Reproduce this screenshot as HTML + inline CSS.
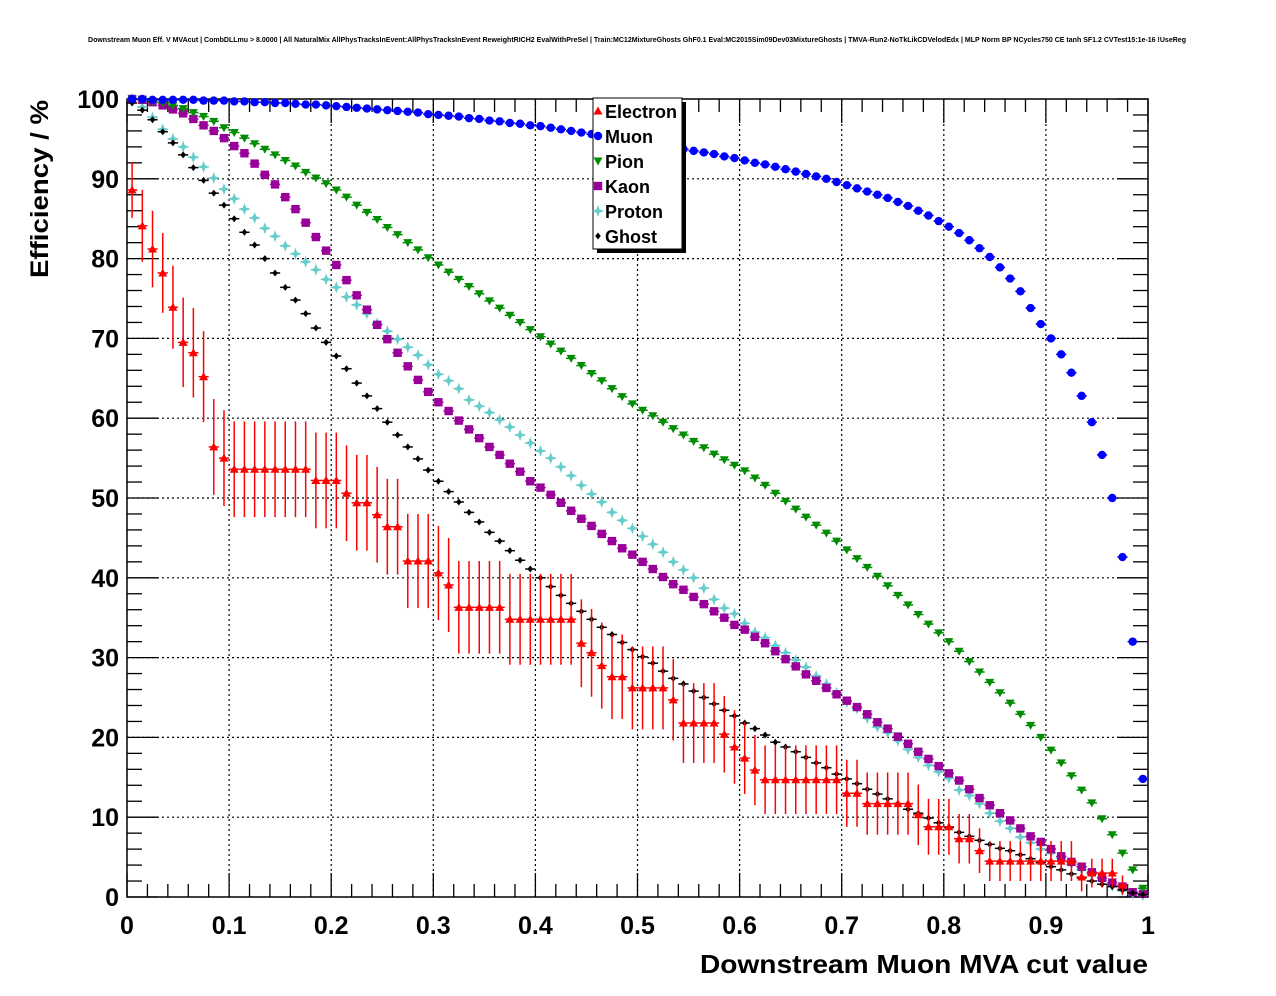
<!DOCTYPE html>
<html><head><meta charset="utf-8"><style>
html,body{margin:0;padding:0;background:#fff;}
svg{display:block;font-family:"Liberation Sans",Arial,sans-serif;}
</style></head><body>
<svg id="chart" width="1276" height="996" viewBox="0 0 1276 996">
<rect x="0" y="0" width="1276" height="996" fill="#fff"/>
<text x="637" y="42" font-size="7.2" font-weight="bold" text-anchor="middle" textLength="1098" lengthAdjust="spacingAndGlyphs">Downstream Muon Eff. V MVAcut | CombDLLmu &gt; 8.0000 | All NaturalMix AllPhysTracksInEvent:AllPhysTracksInEvent ReweightRICH2 EvalWithPreSel | Train:MC12MixtureGhosts GhF0.1 Eval:MC2015Sim09Dev03MixtureGhosts | TMVA-Run2-NoTkLikCDVelodEdx | MLP Norm BP NCycles750 CE tanh SF1.2 CVTest15:1e-16 !UseReg</text>
<g id="grid"></g>
<g id="axes"></g>
<g id="series"></g>
<text x="48" y="278" font-size="25" font-weight="bold" text-anchor="start" textLength="178" lengthAdjust="spacingAndGlyphs" transform="rotate(-90 48 278)">Efficiency / %</text>
<text x="1148" y="973" font-size="26" font-weight="bold" text-anchor="end" textLength="448" lengthAdjust="spacingAndGlyphs">Downstream Muon MVA cut value</text>
<g id="legend"></g>
</svg>
<script>
const xTicks = [0,0.1,0.2,0.3,0.4,0.5,0.6,0.7,0.8,0.9,1];
const xTickLabels = ["0","0.1","0.2","0.3","0.4","0.5","0.6","0.7","0.8","0.9","1"];
const yTicks = [0,10,20,30,40,50,60,70,80,90,100];
const yTickLabels = ["0","10","20","30","40","50","60","70","80","90","100"];
const nBins = 100;
const muon = [100,100,99.9,99.9,99.9,99.9,99.9,99.8,99.8,99.8,
99.7,99.7,99.6,99.6,99.5,99.5,99.4,99.3,99.3,99.2,
99.1,99.0,98.9,98.8,98.7,98.6,98.5,98.4,98.3,98.1,
98.0,97.9,97.8,97.6,97.5,97.3,97.2,97.0,96.9,96.7,
96.6,96.4,96.2,96.0,95.8,95.6,95.4,95.1,94.9,94.7,
94.5,94.3,94.1,93.9,93.7,93.5,93.3,93.1,92.8,92.6,
92.3,92.0,91.8,91.5,91.2,90.9,90.6,90.3,90.0,89.6,
89.2,88.8,88.4,88.0,87.6,87.1,86.6,86.0,85.4,84.7,
84.0,83.2,82.3,81.3,80.2,78.9,77.5,75.9,73.8,71.8,
70.0,68.0,65.7,62.8,59.5,55.4,50.0,42.6,32.0,14.8];
const pion = [100,99.9,99.7,99.5,99.2,98.8,98.3,97.8,97.2,96.4,
95.8,95.1,94.4,93.7,93.0,92.3,91.6,90.8,90.1,89.4,
88.6,87.7,86.7,85.8,84.9,83.9,83.0,82.0,81.1,80.1,
79.2,78.3,77.4,76.5,75.6,74.7,73.8,72.9,72.0,71.1,
70.2,69.3,68.4,67.5,66.6,65.6,64.7,63.7,62.7,61.8,
61.0,60.3,59.5,58.7,57.9,57.1,56.3,55.5,54.8,54.1,
53.4,52.5,51.6,50.6,49.6,48.6,47.6,46.6,45.6,44.6,
43.5,42.4,41.3,40.2,39.0,37.8,36.6,35.4,34.2,33.1,
32.0,30.8,29.5,28.2,26.9,25.6,24.3,22.9,21.5,20.0,
18.4,16.8,15.2,13.4,11.8,9.8,7.8,5.5,3.4,1.1];
const kaon = [100,99.9,99.6,99.2,98.7,98.2,97.5,96.7,96.0,95.1,
94.1,93.2,91.9,90.5,89.3,87.7,86.2,84.5,82.7,81.0,
79.2,77.3,75.4,73.6,71.7,69.9,68.2,66.5,64.8,63.3,
62.0,60.9,59.7,58.6,57.5,56.4,55.4,54.3,53.3,52.1,
51.3,50.4,49.4,48.4,47.4,46.5,45.5,44.6,43.7,42.9,
42.0,41.1,40.1,39.2,38.5,37.6,36.7,35.8,35.0,34.1,
33.5,32.6,31.8,30.8,29.8,28.9,27.9,27.1,26.2,25.4,
24.6,23.8,22.9,21.9,21.1,20.1,19.2,18.2,17.3,16.4,
15.5,14.6,13.5,12.4,11.5,10.5,9.6,8.6,7.6,6.9,
6.0,5.1,4.4,3.8,3.1,2.4,1.8,1.3,0.6,0.4];
const proton = [100,99.0,97.7,96.2,95.0,94.0,92.7,91.5,90.1,88.7,
87.5,86.2,85.1,83.8,82.8,81.6,80.6,79.6,78.6,77.4,
76.4,75.2,74.2,73.1,71.9,70.9,69.9,68.9,67.9,66.7,
65.5,64.7,63.7,62.3,61.5,60.7,59.8,58.9,57.9,56.9,
55.9,55.0,53.9,52.8,51.6,50.5,49.5,48.2,47.2,46.2,
45.2,44.2,43.2,42.0,41.0,40.0,38.7,37.3,36.2,35.5,
34.3,33.2,32.5,31.5,30.6,29.7,28.8,27.7,26.7,25.6,
24.4,23.6,22.4,21.3,20.6,19.6,18.5,17.5,16.5,15.7,
14.9,13.4,12.7,11.7,10.5,9.5,8.6,7.5,6.8,6.0,
5.5,4.9,4.1,3.4,2.8,2.1,1.4,0.8,0.4,0.2];
const ghost = [99.5,98.6,97.4,95.9,94.5,93.0,91.4,89.8,88.2,86.7,
85.0,83.3,81.7,80.0,78.2,76.4,74.8,73.1,71.3,69.5,
67.8,66.2,64.4,62.8,61.2,59.5,57.9,56.4,54.9,53.5,
52.1,50.8,49.5,48.2,47.0,45.7,44.6,43.4,42.2,41.1,
40.0,38.9,37.8,36.8,35.8,34.8,33.8,32.9,31.9,31.0,
30.1,29.3,28.3,27.4,26.7,25.8,25.0,24.2,23.4,22.7,
21.8,21.1,20.3,19.4,18.8,18.2,17.5,16.8,16.2,15.4,
14.8,14.2,13.5,12.9,12.3,11.7,11.0,10.5,9.9,9.3,
8.7,8.1,7.6,7.1,6.6,6.1,5.8,5.3,4.8,4.3,
3.8,3.4,2.9,2.4,2.0,1.6,1.3,0.9,0.5,0.3];
const electron = [88.6,84.1,81.2,78.2,73.9,69.5,68.2,65.2,56.4,55.0,
53.6,53.6,53.6,53.6,53.6,53.6,53.6,53.6,52.2,52.2,
52.2,50.6,49.4,49.4,47.9,46.4,46.4,42.1,42.1,42.1,
40.6,39.1,36.3,36.3,36.3,36.3,36.3,34.8,34.8,34.8,
34.8,34.8,34.8,34.8,31.8,30.6,29.0,27.6,27.6,26.2,
26.2,26.2,26.2,24.7,21.8,21.8,21.8,21.8,20.4,18.8,
17.4,15.9,14.7,14.7,14.7,14.7,14.7,14.7,14.7,14.7,
13.0,13.0,11.7,11.7,11.7,11.7,11.7,10.3,8.8,8.8,
8.8,7.3,7.3,5.8,4.5,4.5,4.5,4.5,4.5,4.5,
4.5,4.5,4.5,2.5,3.0,3.0,3.0,1.5,null,null];
const electronErr = [3.5,4.5,4.8,5.0,5.2,5.6,5.6,5.7,6.0,6.0,
6.0,6.0,6.0,6.0,6.0,6.0,6.0,6.0,6.0,6.0,
6.0,6.0,6.0,6.0,6.0,6.0,6.0,5.9,5.9,5.9,
5.9,5.9,5.8,5.8,5.8,5.8,5.8,5.7,5.7,5.7,
5.7,5.7,5.7,5.7,5.5,5.5,5.4,5.3,5.3,5.2,
5.2,5.2,5.2,5.1,5.0,5.0,5.0,5.0,4.8,4.6,
4.5,4.4,4.3,4.3,4.3,4.3,4.3,4.3,4.3,4.3,
4.2,4.2,3.9,3.9,3.9,3.9,3.9,3.8,3.5,3.5,
3.5,3.1,3.1,2.8,2.5,2.5,2.5,2.5,2.5,2.5,
2.5,2.5,2.5,1.8,1.8,1.8,1.8,1.2,0,0];

const L=127,R=1148,T=99,B=897;
const xs = v => L + v*(R-L);
const ys = v => B - v/100*(B-T);
const NS='http://www.w3.org/2000/svg';
function mk(tag, attrs, parent){const e=document.createElementNS(NS,tag);for(const k in attrs)e.setAttribute(k,attrs[k]);parent.appendChild(e);return e;}
const grid=document.getElementById('grid'), axes=document.getElementById('axes'), ser=document.getElementById('series'), leg=document.getElementById('legend');

xTicks.forEach(t=>{ if(t>0&&t<1){const l=mk('line',{x1:xs(t),x2:xs(t),y1:T,y2:B,stroke:'#000','stroke-width':1.2,'stroke-dasharray':'2,3'},grid);

}});
yTicks.forEach(t=>{ if(t>0&&t<100){const l=mk('line',{x1:L,x2:R,y1:ys(t),y2:ys(t),stroke:'#000','stroke-width':1.2,'stroke-dasharray':'2,3'},grid);

}});

const fr=mk('rect',{x:L,y:T,width:R-L,height:B-T,fill:'none',stroke:'#000','stroke-width':1.5},axes);


for(let i=0;i<=50;i++){const v=i/50;const len=(i%5===0)?24:13;const x=xs(v);
 const a=mk('line',{x1:x,x2:x,y1:B,y2:B-len,stroke:'#000','stroke-width':1.3},axes);
 
 
 const b=mk('line',{x1:x,x2:x,y1:T,y2:T+len,stroke:'#000','stroke-width':1.3},axes);
 
 }
for(let i=0;i<=50;i++){const v=i*2;const len=(i%5===0)?31:15;const y=ys(v);
 const a=mk('line',{x1:L,x2:L+len,y1:y,y2:y,stroke:'#000','stroke-width':1.3},axes);
 
 
 const b=mk('line',{x1:R,x2:R-len,y1:y,y2:y,stroke:'#000','stroke-width':1.3},axes);
 
 }
xTicks.forEach((t,i)=>{const e=mk('text',{x:xs(t),y:934,'font-size':25,'font-weight':'bold','text-anchor':'middle'},axes);e.textContent=xTickLabels[i];
 
 });
yTicks.forEach((t,i)=>{const e=mk('text',{x:119,y:ys(t)+9,'font-size':25,'font-weight':'bold','text-anchor':'end'},axes);e.textContent=yTickLabels[i];
 
 });

function marker(kind,color,cx,cy,parent){
 let e;
 if(kind==='tri-up') e=mk('polygon',{points:`${cx-4.5},${cy+3.5} ${cx+4.5},${cy+3.5} ${cx},${cy-4.5}`,fill:color},parent);
 else if(kind==='tri-down') e=mk('polygon',{points:`${cx-4.5},${cy-3.5} ${cx+4.5},${cy-3.5} ${cx},${cy+4.5}`,fill:color},parent);
 else if(kind==='circle') e=mk('circle',{cx:cx,cy:cy,r:4.2,fill:color},parent);
 else if(kind==='square') e=mk('rect',{x:cx-4.2,y:cy-4.2,width:8.4,height:8.4,fill:color},parent);
 else if(kind==='star') e=mk('polygon',{points:`${cx},${cy-6} ${cx+1.6},${cy-1.6} ${cx+6},${cy} ${cx+1.6},${cy+1.6} ${cx},${cy+6} ${cx-1.6},${cy+1.6} ${cx-6},${cy} ${cx-1.6},${cy-1.6}`,fill:color},parent);
 else e=mk('polygon',{points:`${cx},${cy-3.5} ${cx+2.8},${cy} ${cx},${cy+3.5} ${cx-2.8},${cy}`,fill:color},parent);
 return e;
}
const seriesDefs=[
 {name:'electron',label:'Electron',data:electron,color:'#ff0000',kind:'tri-up',err:electronErr},
 {name:'muon',label:'Muon',data:muon,color:'#0000ff',kind:'circle'},
 {name:'pion',label:'Pion',data:pion,color:'#008c00',kind:'tri-down'},
 {name:'kaon',label:'Kaon',data:kaon,color:'#990099',kind:'square'},
 {name:'proton',label:'Proton',data:proton,color:'#66cccc',kind:'star'},
 {name:'ghost',label:'Ghost',data:ghost,color:'#000000',kind:'diamond'}];
const drawOrder=[4,3,2,5,0,1];
drawOrder.forEach(si=>{const s=seriesDefs[si];
 const g=mk('g',{},ser);
 
 
 s.data.forEach((v,i)=>{ if(v===null) return;
  const x0=xs(i/nBins),x1=xs((i+1)/nBins),cx=xs((i+0.5)/nBins),cy=ys(v);
  const h=mk('line',{x1:x0,x2:x1,y1:cy,y2:cy,stroke:s.color,'stroke-width':1.5},g);
  
  
  if(s.err){const ev=mk('line',{x1:cx,x2:cx,y1:ys(v+s.err[i]),y2:ys(Math.max(0,v-s.err[i])),stroke:s.color,'stroke-width':1.5},g);
   
   }
  const m=marker(s.kind,s.color,cx,cy,g);
  
  
 });
});

const sh=mk('rect',{x:597,y:102,width:89,height:151,fill:'#000'},leg);


const bx=mk('rect',{x:593,y:98,width:89,height:151,fill:'#fff',stroke:'#000','stroke-width':1},leg);


seriesDefs.forEach((s,i)=>{const y=111+i*25;
 const g=mk('g',{},leg);
 
 
 marker(s.kind,s.color,598,y,g);
 const t=mk('text',{x:605,y:y+7,'font-size':18,'font-weight':'bold'},g);t.textContent=s.label;
});
</script>
</body></html>
